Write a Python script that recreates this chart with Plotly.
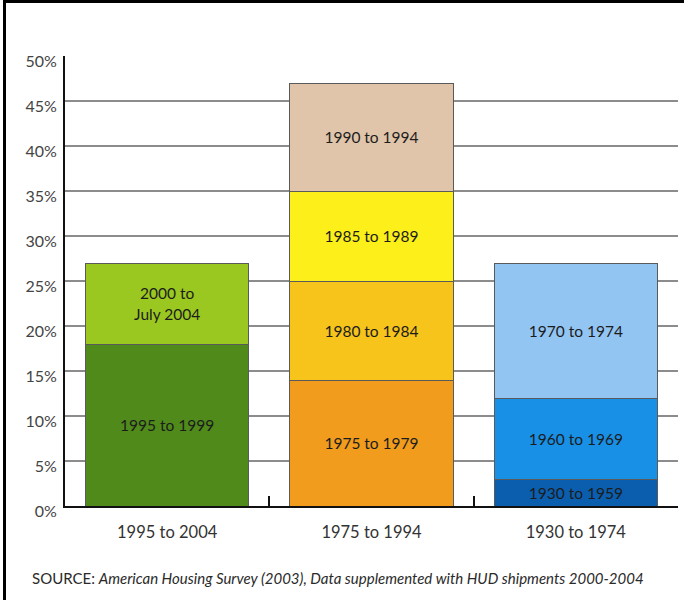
import plotly.graph_objects as go

# ---- data ----
categories = ["1995 to 2004", "1975 to 1994", "1930 to 1974"]

group1_labels = ["1995 to 1999", "2000 to<br>July 2004"]
group1_values = [18, 9]

group2_labels = ["1975 to 1979", "1980 to 1984", "1985 to 1989", "1990 to 1994"]
group2_values = [14, 11, 10, 12]

group3_labels = ["1930 to 1959", "1960 to 1969", "1970 to 1974"]
group3_values = [3, 9, 15]

y_ticks = [0, 5, 10, 15, 20, 25, 30, 35, 40, 45, 50]
y_tick_text = [f"{v}%" for v in y_ticks]

source_text = ("SOURCE: <i>American Housing Survey (2003), Data supplemented "
               "with HUD shipments 2000-2004</i>")

# ---- styles ----
group1_colors = ["#4f8a1b", "#9bc820"]
group2_colors = ["#f19c1c", "#f6c41a", "#fdf01a", "#e0c5aa"]
group3_colors = ["#0b5eae", "#1890e6", "#93c5f3"]

FONT = "Lato"
TEXT_COLOR = "#1c1c1c"

fig = go.Figure()

groups = [
    (categories[0], group1_labels, group1_values, group1_colors),
    (categories[1], group2_labels, group2_values, group2_colors),
    (categories[2], group3_labels, group3_values, group3_colors),
]

for cat, labels, values, colors in groups:
    for lab, val, col in zip(labels, values, colors):
        fig.add_trace(go.Bar(
            x=[cat], y=[val],
            marker=dict(color=col, line=dict(color="#5a5a5a", width=1)),
            text=[lab],
            textposition="inside",
            insidetextanchor="middle",
            textangle=0,
            textfont=dict(family=FONT, size=15.5, color=TEXT_COLOR),
            hoverinfo="skip",
            showlegend=False,
            width=0.8,
        ))

# plot area: x 65..678, y 56..506 (pixels)
L, R, T, B = 65, 6, 56, 94
pw, ph = 684 - L - R, 600 - T - B

def px_x(px):
    return (px - L) / pw

def px_y(py):
    return (600 - B - py) / ph

fig.update_layout(
    width=684, height=600,
    margin=dict(l=L, r=R, t=T, b=B, pad=0),
    paper_bgcolor="white", plot_bgcolor="white",
    barmode="stack",
    bargap=0.2,
    font=dict(family=FONT, color="#333333"),
    uniformtext=dict(minsize=15, mode="show"),
    xaxis=dict(
        type="category",
        categoryorder="array", categoryarray=categories,
        showline=True, linecolor="#111111", linewidth=2,
        ticks="inside", tickson="boundaries", ticklen=10,
        tickcolor="#111111", tickwidth=2,
        showgrid=False,
        tickfont=dict(family=FONT, size=16.5, color="#333333"),
        ticklabelstandoff=10,
    ),
    yaxis=dict(
        range=[0, 50],
        tickvals=y_ticks, ticktext=y_tick_text,
        showline=True, linecolor="#111111", linewidth=2,
        showgrid=True, gridcolor="#8c8c8c", gridwidth=2,
        zeroline=False,
        ticks="",
        tickfont=dict(family=FONT, size=16, color="#444444"),
        ticklabelstandoff=3,
        ticklabelshift=5,
    ),
    annotations=[
        dict(
            xref="paper", yref="paper",
            x=px_x(30), y=px_y(578),
            xanchor="left", yanchor="middle",
            text=source_text, showarrow=False,
            font=dict(family=FONT, size=15, color="#2a2a2a"),
        )
    ],
    shapes=[
        dict(type="line", xref="paper", yref="paper",
             x0=px_x(4), x1=px_x(684), y0=px_y(1.5), y1=px_y(1.5),
             line=dict(color="black", width=3)),
        dict(type="line", xref="paper", yref="paper",
             x0=px_x(4.5), x1=px_x(4.5), y0=px_y(0), y1=px_y(600),
             line=dict(color="black", width=3)),
    ],
)

fig.write_html("out.html")
